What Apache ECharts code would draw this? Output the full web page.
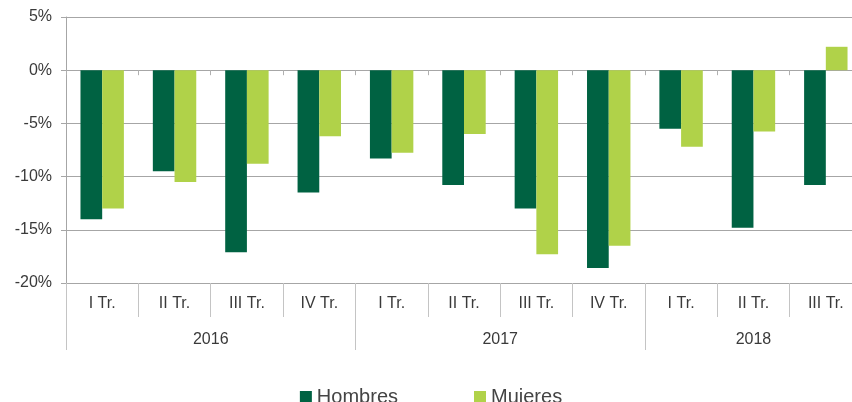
<!DOCTYPE html>
<html>
<head>
<meta charset="utf-8">
<script src="https://cdn.jsdelivr.net/npm/echarts@6/dist/echarts.min.js"></script>
<style>
  html, body { margin: 0; padding: 0; background: #fff; overflow: hidden; }
  #chart { width: 862px; height: 402px; }
</style>
</head>
<body>
<div id="chart"></div>
<script>
// trimestres (nivel 1) y años (nivel 2)
var quarters = ['I Tr.', 'II Tr.', 'III Tr.', 'IV Tr.', 'I Tr.', 'II Tr.', 'III Tr.', 'IV Tr.', 'I Tr.', 'II Tr.', 'III Tr.'];
var years = ['2016', '2017', '2018'];
var yearSpans = [4, 4, 3];

var hombres = [-14.0, -9.5, -17.1, -11.5, -8.3, -10.8, -13.0, -18.6, -5.5, -14.8, -10.8];
var mujeres = [-13.0, -10.5, -8.8, -6.2, -7.75, -6.0, -17.3, -16.5, -7.2, -5.75, 2.2];

var yTicks = [-20, -15, -10, -5, 0, 5];

// limites y centros de cada año sobre el eje de trimestres
var yearBounds = [0];
var yearCenters = [];
yearSpans.forEach(function (n, i) {
  yearCenters.push(yearBounds[i] + n / 2);
  yearBounds.push(yearBounds[i] + n);
});

var font = 'Liberation Sans, Arial, sans-serif';
var textColor = '#3a3a3a';

var chart = echarts.init(document.getElementById('chart'));
chart.setOption({
  backgroundColor: '#fff',
  animation: false,
  textStyle: { fontFamily: font },
  // la última columna queda cortada por el borde derecho, como en el original
  grid: { left: 66, right: 0, top: 17, bottom: 119 },
  legend: {
    data: ['Hombres', 'Mujeres'],
    left: 'center',
    top: 382,
    icon: 'rect',
    itemWidth: 12,
    itemHeight: 12,
    itemGap: 76,
    textStyle: { fontSize: 20, color: '#444', fontFamily: font }
  },
  xAxis: [
    {
      type: 'category',
      data: quarters,
      position: 'bottom',
      axisLine: { onZero: false, lineStyle: { color: '#a6a6a6' } },
      axisTick: { show: true, interval: 0, length: 34, lineStyle: { color: '#c4c4c4' } },
      axisLabel: { interval: 0, margin: 13, fontSize: 16, color: textColor }
    },
    {
      type: 'value',
      min: 0,
      max: quarters.length,
      position: 'bottom',
      splitLine: { show: false },
      axisLine: { show: false, onZero: false },
      axisTick: { show: true, length: 67, customValues: yearBounds, lineStyle: { color: '#c4c4c4' } },
      axisLabel: {
        margin: 49,
        fontSize: 16,
        color: textColor,
        customValues: yearCenters,
        formatter: function (v) {
          var i = yearCenters.indexOf(v);
          return i >= 0 ? years[i] : '';
        }
      }
    },
    {
      type: 'category',
      data: quarters,
      position: 'bottom',
      axisLine: { show: true, onZero: true, lineStyle: { color: '#a6a6a6' } },
      axisTick: { show: true, interval: 0, length: 5, lineStyle: { color: '#b0b0b0' } },
      axisLabel: { show: false }
    }
  ],
  yAxis: {
    type: 'value',
    min: yTicks[0],
    max: yTicks[yTicks.length - 1],
    interval: 5,
    axisLine: { show: true, lineStyle: { color: '#a6a6a6' } },
    axisTick: { show: true, length: 5, lineStyle: { color: '#a6a6a6' } },
    axisLabel: { formatter: '{value}%', fontSize: 16, color: textColor, margin: 14 },
    splitLine: { lineStyle: { color: '#a6a6a6' } }
  },
  series: [
    {
      name: 'Hombres',
      type: 'bar',
      xAxisIndex: 0,
      data: hombres,
      barGap: '0%',
      barCategoryGap: '40%',
      itemStyle: { color: '#006242' }
    },
    {
      name: 'Mujeres',
      type: 'bar',
      xAxisIndex: 0,
      data: mujeres,
      barGap: '0%',
      barCategoryGap: '40%',
      itemStyle: { color: '#b0d249' }
    }
  ]
});
</script>
</body>
</html>
